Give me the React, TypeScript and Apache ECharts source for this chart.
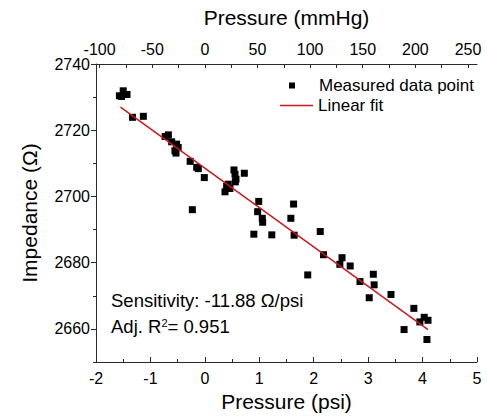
import React, { useEffect, useRef } from "react";
import * as echarts from "echarts";

// Measured data: [pressure (psi), impedance (Ω)]
const measuredPoints: [number, number][] = [
  [-1.57, 2730.4], [-1.5, 2731.9], [-1.43, 2730.8], [-1.53, 2730.2],
  [-1.33, 2723.9], [-1.13, 2724.2],
  [-0.73, 2718.1], [-0.67, 2718.6], [-0.61, 2716.5], [-0.52, 2715.8],
  [-0.55, 2713.8], [-0.53, 2713.1], [-0.49, 2714.8],
  [-0.27, 2710.6], [-0.15, 2708.8], [-0.12, 2708.4], [-0.23, 2696.0], [-0.01, 2705.7],
  [0.37, 2701.4], [0.4, 2703.0], [0.43, 2703.7], [0.46, 2702.4],
  [0.535, 2708.0], [0.554, 2706.7], [0.572, 2705.2], [0.56, 2704.4], [0.725, 2707.0],
  [0.99, 2698.5], [0.97, 2695.4], [1.055, 2693.4], [1.062, 2692.2], [0.9, 2688.6], [1.23, 2688.4],
  [1.63, 2697.7], [1.58, 2693.4], [1.64, 2688.3],
  [2.12, 2689.4], [2.18, 2682.4], [2.52, 2681.5], [2.48, 2679.5], [2.67, 2679.0], [1.89, 2676.3],
  [2.85, 2674.3], [3.095, 2676.5], [3.11, 2673.3], [3.02, 2669.4],
  [3.42, 2670.4], [3.84, 2666.2], [3.66, 2659.8], [3.95, 2662.1], [4.03, 2663.5], [4.1, 2662.6], [4.08, 2656.8],
];

// Linear fit endpoints
const fitX = [-1.55, 4.1];
const fitY = [2727.0, 2659.8];

// Tick labels
const psiRange = [-2, 5];
const impedanceRange = [2650, 2740];
const impedanceMajorTicks = [2660, 2680, 2700, 2720, 2740];
const mmHgMajorTicks = [-100, -50, 0, 50, 100, 150, 200, 250];
const mmHgAllTicks = [-100, -75, -50, -25, 0, 25, 50, 75, 100, 125, 150, 175, 200, 225, 250];
const PSI_TO_MMHG = 51.715;

const FONT = "'Liberation Sans', Arial, sans-serif";
const AXIS_COLOR = "#2a2a2a";
const FIT_COLOR = "#c8191e";

export default function App() {
  const ref = useRef<HTMLDivElement>(null);

  useEffect(() => {
    if (!ref.current) return;
    const chart = echarts.init(ref.current, null, { renderer: "svg" });
    const toPsi = (v: number) => v / PSI_TO_MMHG;
    const labelStyle = { color: "#000", fontSize: 16, fontFamily: FONT };
    const nameStyle = { color: "#000", fontSize: 21, fontFamily: FONT };

    chart.setOption({
      animation: false,
      grid: { left: 96, right: 10, top: 64, bottom: 55 },
      title: [
        {
          text: "Sensitivity: -11.88 Ω/psi",
          left: 111,
          top: 291,
          padding: 0,
          textStyle: { color: "#000", fontSize: 18.5, fontWeight: "normal", fontFamily: FONT },
        },
        {
          text: "Adj. R{sup|2}= 0.951",
          left: 111,
          top: 317,
          padding: 0,
          textStyle: {
            color: "#000",
            fontSize: 18.5,
            fontWeight: "normal",
            fontFamily: FONT,
            rich: { sup: { fontSize: 11, fontFamily: FONT, color: "#000", verticalAlign: "top" } },
          },
        },
      ],
      legend: [
        {
          data: ["Measured data point"],
          orient: "vertical",
          left: 289,
          top: 77,
          padding: 0,
          itemWidth: 6,
          itemHeight: 6,
          selectedMode: false,
          textStyle: { color: "#000", fontSize: 17, fontFamily: FONT, padding: [0, 0, 0, 19] },
        },
        {
          data: [{ name: "Linear fit", icon: "rect" }],
          orient: "vertical",
          left: 280,
          top: 97,
          padding: 0,
          itemWidth: 33,
          itemHeight: 1.5,
          selectedMode: false,
          itemStyle: { color: FIT_COLOR },
          textStyle: { color: "#000", fontSize: 17, fontFamily: FONT },
        },
      ],
      xAxis: [
        {
          type: "value",
          position: "bottom",
          z: 10,
          min: psiRange[0],
          max: psiRange[1],
          interval: 1,
          name: "Pressure (psi)",
          nameLocation: "middle",
          nameGap: 28,
          nameTextStyle: nameStyle,
          axisLine: { show: true, onZero: false, lineStyle: { color: AXIS_COLOR, width: 1 } },
          axisTick: { show: true, inside: true, length: 5 },
          minorTick: { show: true, splitNumber: 2, length: 3 },
          axisLabel: { ...labelStyle, margin: 8 },
          splitLine: { show: false },
        },
        {
          type: "value",
          position: "top",
          z: 10,
          min: psiRange[0],
          max: psiRange[1],
          name: "Pressure (mmHg)",
          nameLocation: "middle",
          nameGap: 36,
          nameTextStyle: nameStyle,
          axisLine: { show: true, onZero: false, lineStyle: { color: AXIS_COLOR, width: 1 } },
          axisTick: {
            show: true,
            inside: true,
            length: 4,
            customValues: mmHgAllTicks.map(toPsi),
          },
          axisLabel: {
            ...labelStyle,
            margin: 7,
            customValues: mmHgMajorTicks.map(toPsi),
            formatter: (v: number) => String(Math.round(v * PSI_TO_MMHG)),
          },
          splitLine: { show: false },
        },
      ],
      yAxis: [
        {
          type: "value",
          position: "left",
          min: impedanceRange[0],
          max: impedanceRange[1],
          name: "Impedance (Ω)",
          nameLocation: "middle",
          nameRotate: 90,
          nameGap: 56,
          nameTextStyle: nameStyle,
          axisLine: { show: true, onZero: false, lineStyle: { color: AXIS_COLOR, width: 1 } },
          axisTick: {
            show: true,
            inside: false,
            length: 5,
            customValues: impedanceMajorTicks,
            lineStyle: { color: AXIS_COLOR },
          },
          axisLabel: {
            ...labelStyle,
            margin: 6,
            customValues: impedanceMajorTicks,
            formatter: (v: number) => String(v),
          },
          splitLine: { show: false },
        },
        {
          type: "value",
          position: "left",
          min: impedanceRange[0],
          max: impedanceRange[1],
          interval: 10,
          axisLine: { show: false, onZero: false },
          axisTick: { show: true, inside: false, length: 3, lineStyle: { color: AXIS_COLOR } },
          axisLabel: { show: false },
          splitLine: { show: false },
        },
      ],
      series: [
        {
          name: "Measured data point",
          type: "scatter",
          xAxisIndex: 0,
          yAxisIndex: 0,
          symbol: "rect",
          symbolSize: 7,
          itemStyle: { color: "#000", opacity: 1 },
          data: measuredPoints,
          markLine: {
            silent: true,
            symbol: ["none", "none"],
            label: { show: false },
            lineStyle: { color: AXIS_COLOR, width: 1, type: "solid" },
            data: [{ yAxis: impedanceRange[0] }, { yAxis: impedanceRange[1] }],
          },
        },
        {
          name: "Linear fit",
          type: "line",
          xAxisIndex: 0,
          yAxisIndex: 0,
          showSymbol: false,
          symbol: "none",
          itemStyle: { color: FIT_COLOR },
          lineStyle: { color: FIT_COLOR, width: 1.5 },
          data: fitX.map((x, i) => [x, fitY[i]]),
        },
      ],
    });

    return () => chart.dispose();
  }, []);

  return (
    <div
      ref={ref}
      style={{ position: "absolute", left: 0, top: 0, width: 487, height: 417, background: "#fff" }}
    />
  );
}
